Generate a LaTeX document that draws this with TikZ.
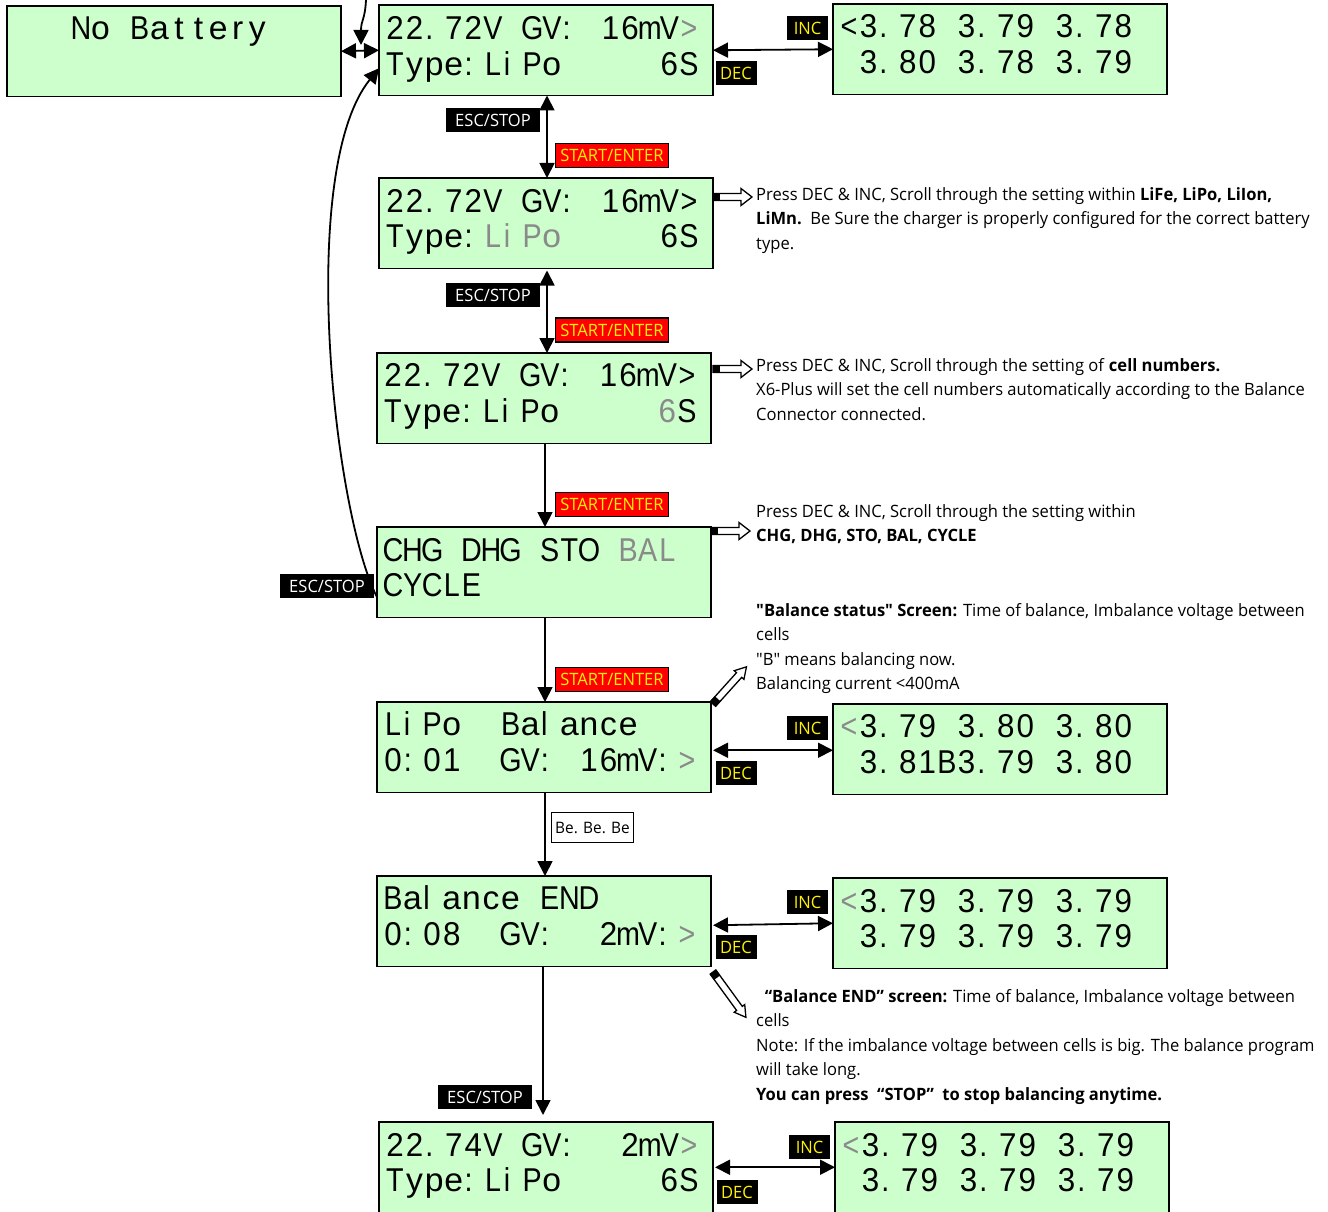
\documentclass[tikz,border=0pt]{standalone}
\usepackage{fontspec}
\usetikzlibrary{arrows.meta}
\newfontfamily\lcdfont{Liberation Sans}[FakeStretch=0.87]
\newfontfamily\lcddigit{Liberation Sans}[FakeStretch=0.95]
\newfontfamily\lcdlower{Liberation Sans}[FakeStretch=1.02]
\newfontfamily\notefont{Open Sans}[FakeStretch=0.973]
\definecolor{lcdgreen}{HTML}{CCFFCC}
\definecolor{lcdgrey}{HTML}{8A8A8A}
\makeatletter
\newcommand\lcdcell[1]{%
  \expandafter\in@\expandafter{#1}{.:il}%
  \ifin@\makebox[19.6pt][l]{\hspace{1pt}#1}%
  \else
    \expandafter\in@\expandafter{#1}{0123456789}%
    \ifin@\makebox[19.6pt][c]{\lcddigit #1}%
    \else
      \expandafter\in@\expandafter{#1}{abcdefghjknopqrstuvwxyz}%
      \ifin@\makebox[19.6pt][c]{\lcdlower #1}%
      \else\makebox[19.6pt][c]{#1}\fi
    \fi
  \fi}
\newcommand\lcd[1]{\@tfor\lcdch:=#1\do{\lcdcell{\lcdch}}}
\makeatother
\newcommand\lcg[1]{\textcolor{lcdgrey}{\lcd{#1}}}
\tikzset{
  lcdbox/.style={draw=black,line width=1.8pt,fill=lcdgreen,anchor=north west,inner sep=0pt,outer sep=0pt,minimum width=334pt,minimum height=90.5pt},
  lcdtext/.style={anchor=base west,inner sep=0pt,font=\lcdfont\fontsize{33}{36}\selectfont},
  keybase/.style={inner sep=0pt,font=\notefont\fontsize{17}{18}\selectfont,minimum height=24pt},
  keydark/.style={keybase,fill=black,text=yellow,minimum width=41pt},
  keyesc/.style={keybase,fill=black,text=white,minimum width=94pt},
  keystart/.style={keybase,fill=red,text=yellow,draw=black,line width=1.5pt,minimum width=113pt},
  keybe/.style={keybase,font=\notefont\fontsize{15.8}{18}\selectfont,fill=white,text=black,draw=black,line width=1.2pt,minimum width=82pt,minimum height=30pt},
  note/.style={anchor=north west,inner sep=0pt,align=left,font=\notefont\fontsize{17}{24.5}\selectfont},
  tip/.style={line width=1.8pt,-{Triangle[length=15pt,width=15pt]}},
  dtip/.style={line width=1.8pt,{Triangle[length=15pt,width=15pt]}-{Triangle[length=15pt,width=15pt]}},
  blockarrow/.style={draw=black,line width=1.3pt,fill=white,line join=miter},
}
\newcommand\screen[7]{%
  \node[lcdbox] (#1) at (#2,#3) {};
  \node[lcdtext] (#1a) at (#4,#5) {#6};
  \node[lcdtext] (#1b) at (#4,#5+35.5) {#7};
}
% name, start x, start y, angle, length, head half-width
\newcommand\blockarr[6]{%
  \begin{scope}[shift={(#2,#3)},rotate=#4]
    \draw[blockarrow] (0,-3.5) -- (#5-11,-3.5) -- (#5-11,-#6) -- (#5,0) -- (#5-11,#6) -- (#5-11,3.5) -- (0,3.5) -- cycle;
    \fill[black] (0,-4) rectangle (7,4);
    \coordinate (#1) at (0,0);
  \end{scope}
}
\begin{document}
\begin{tikzpicture}[x=1pt,y=-1pt]
\useasboundingbox (0,0) rectangle (1328,1212);
% screens
\screen{a}{7}{6}{71}{40}{\lcd{No~Battery}}{}
\screen{b}{379}{5}{385}{40}{\lcd{22.72V~GV:~16mV}\lcg{>}}{\lcd{Type:LiPo~~~~~6S}}
\screen{c}{833}{4}{839}{38}{\lcd{<3.78~3.79~3.78}}{\lcd{~3.80~3.78~3.79}}
\screen{d}{379}{178}{385}{212}{\lcd{22.72V~GV:~16mV>}}{\lcd{Type:}\lcg{LiPo}\lcd{~~~~~6S}}
\screen{e}{377}{353}{383}{386.5}{\lcd{22.72V~GV:~16mV>}}{\lcd{Type:LiPo~~~~~}\lcg{6}\lcd{S}}
\screen{f}{377}{527}{383}{561}{\lcd{CHG~DHG~STO~}\lcg{BAL}}{\lcd{CYCLE}}
\screen{g}{377}{702}{383}{735.5}{\lcd{LiPo~~Balance}}{\lcd{0:01~~GV:~16mV:}\lcg{>}}
\screen{gr}{833}{704}{839}{737.5}{\lcg{<}\lcd{3.79~3.80~3.80}}{\lcd{~3.81B3.79~3.80}}
\screen{h}{377}{876}{383}{909.5}{\lcd{Balance~END}}{\lcd{0:08~~GV:~~2mV:}\lcg{>}}
\screen{hr}{833}{878}{839}{912}{\lcg{<}\lcd{3.79~3.79~3.79}}{\lcd{~3.79~3.79~3.79}}
\screen{i}{379}{1122}{385}{1156}{\lcd{22.74V~GV:~~2mV}\lcg{>}}{\lcd{Type:LiPo~~~~~6S}}
\screen{ir}{835}{1122}{841}{1156}{\lcg{<}\lcd{3.79~3.79~3.79}}{\lcd{~3.79~3.79~3.79}}
% free ends
\coordinate (topin) at (366,0);
\coordinate (topend) at (361,45);
\coordinate (iend) at (543,1115);
% connectors
\draw[tip] (topin) .. controls (365,20) and (361,20) .. (topend);
\draw[dtip] (a.east) -- (b.west);
\draw[tip] ([yshift=-25pt]f.west) .. controls (333,510) and (297,170) .. ([yshift=-18pt]b.west);
\draw[dtip] ([xshift=1pt]b.south) -- ([xshift=1pt]d.north);
\draw[dtip] ([xshift=1pt,yshift=-2pt]d.south) -- ([xshift=3pt]e.north);
\draw[tip] ([xshift=1pt]e.south) -- ([xshift=1pt]f.north);
\draw[tip] ([xshift=1pt]f.south) -- ([xshift=1pt]g.north);
\draw[tip] ([xshift=1pt]g.south) -- ([xshift=1pt]h.north);
\draw[tip] ([xshift=-1pt]h.south) -- (iend);
\draw[dtip] (b.east) -- (c.west);
\draw[dtip] ([xshift=2pt,yshift=-3pt]g.east) -- ([yshift=-1pt]gr.west);
\draw[dtip] ([xshift=2pt,yshift=-4pt]h.east) -- (hr.west);
\draw[dtip] ([xshift=2pt]i.east) -- (ir.west);
% key labels
\node[keydark] (k1) at (807.5,28) {INC};
\node[keydark] (k2) at (736,73) {DEC};
\node[keyesc] (k3) at (493,120) {ESC/STOP};
\node[keystart] (k4) at (612,155.5) {START/ENTER};
\node[keyesc] (k5) at (493,295) {ESC/STOP};
\node[keystart] (k6) at (612,330) {START/ENTER};
\node[keystart] (k7) at (612,504.5) {START/ENTER};
\node[keyesc] (k8) at (327,586) {ESC/STOP};
\node[keystart] (k9) at (612,679.5) {START/ENTER};
\node[keydark] (k10) at (807.5,728) {INC};
\node[keydark] (k11) at (736,773) {DEC};
\node[keybe] (k12) at (592.5,827.5) {Be. Be. Be};
\node[keydark] (k13) at (807.5,902) {INC};
\node[keydark] (k14) at (736,947) {DEC};
\node[keyesc] (k15) at (485,1097) {ESC/STOP};
\node[keydark] (k16) at (809.5,1147) {INC};
\node[keydark] (k17) at (737,1192) {DEC};
% hollow arrows
\blockarr{ar1}{713}{197}{0}{39}{8.5}
\blockarr{ar2}{713}{369}{0}{39}{8.5}
\blockarr{ar3}{711}{531}{0}{39}{8.5}
\blockarr{ar4}{713}{704}{48}{50}{6.5}
\blockarr{ar5}{713}{972}{-54}{56}{6.5}
% notes
\node[note] (n1) at (756,187) {Press DEC \& INC, Scroll through the setting within \textbf{LiFe, LiPo, LiIon,}\\\textbf{LiMn.}\ \ Be Sure the charger is properly configured for the correct battery\\type.};
\node[note] (n2) at (756,358) {Press DEC \& INC, Scroll through the setting of \textbf{cell numbers.}\\X6-Plus will set the cell numbers automatically according to the Balance\\Connector connected.};
\node[note] (n3) at (756,504) {Press DEC \& INC, Scroll through the setting within\\\textbf{CHG, DHG, STO, BAL, CYCLE}};
\node[note] (n4) at (756,603) {\textbf{"Balance status" Screen:} Time of balance, Imbalance voltage between\\cells\\"B" means balancing now.\\Balancing current <400mA};
\node[note] (n5) at (756,989) {\ \ \textbf{“Balance END” screen:} Time of balance, Imbalance voltage between\\cells\\Note: If the imbalance voltage between cells is big. The balance program\\will take long.\\\textbf{You can press \ “STOP” \ to stop balancing anytime.}};
\end{tikzpicture}
\end{document}
